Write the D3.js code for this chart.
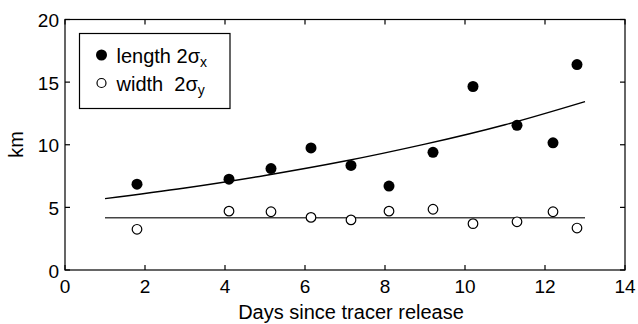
<!DOCTYPE html>
<html>
<head>
  <title>Tracer patch length and width</title>
  <script src="https://d3js.org/d3.v7.min.js"></script>
  <style>
    body { margin: 0; background: #fff; }
    text { font-family: "Liberation Sans", Arial, Helvetica, sans-serif; fill: #000; }
    .tick-label { font-size: 19px; }
    .axis-title { font-size: 20px; }
    .legend text { font-size: 20px; }
  </style>
</head>
<body>
  <div id="chart"></div>

  <script>
    // Values
    const days = [1.8, 4.1, 5.15, 6.15, 7.15, 8.1, 9.2, 10.2, 11.3, 12.2, 12.8];
    const lengthKm = [6.85, 7.25, 8.1, 9.75, 8.35, 6.7, 9.4, 14.65, 11.55, 10.15, 16.4];
    const widthKm = [3.25, 4.7, 4.65, 4.2, 4.0, 4.7, 4.85, 3.7, 3.85, 4.65, 3.35];

    // Fitted lines
    const lengthFitDays = [1, 3, 5, 7, 9, 11, 13];
    const lengthFitKm = [5.7, 6.55, 7.55, 8.7, 10.05, 11.6, 13.45];
    const widthFitDays = [1, 13];
    const widthFitKm = [4.17, 4.17];

    const xTicks = [0, 2, 4, 6, 8, 10, 12, 14];
    const yTicks = [0, 5, 10, 15, 20];

    const W = 638, H = 324;
    const plotL = 65, plotR = 625, plotT = 19.5, plotB = 270;
    const tickLen = 5;

    const svg = d3.select("#chart")
      .append("svg")
      .attr("width", W)
      .attr("height", H);

    const x = d3.scaleLinear().domain([0, 14]).range([plotL, plotR]);
    const y = d3.scaleLinear().domain([0, 20]).range([plotB, plotT]);

    // frame
    svg.append("rect")
      .attr("x", plotL).attr("y", plotT)
      .attr("width", plotR - plotL).attr("height", plotB - plotT)
      .attr("fill", "none").attr("stroke", "#000").attr("stroke-width", 1.2);

    // inward ticks on all four sides
    const ticks = svg.append("g").attr("stroke", "#000").attr("stroke-width", 1.2);
    xTicks.forEach(t => {
      ticks.append("line").attr("x1", x(t)).attr("x2", x(t)).attr("y1", plotB).attr("y2", plotB - tickLen);
      ticks.append("line").attr("x1", x(t)).attr("x2", x(t)).attr("y1", plotT).attr("y2", plotT + tickLen);
    });
    yTicks.forEach(t => {
      ticks.append("line").attr("x1", plotL).attr("x2", plotL + tickLen).attr("y1", y(t)).attr("y2", y(t));
      ticks.append("line").attr("x1", plotR).attr("x2", plotR - tickLen).attr("y1", y(t)).attr("y2", y(t));
    });

    // tick labels
    svg.append("g").selectAll("text")
      .data(xTicks).enter().append("text")
      .attr("class", "tick-label")
      .attr("x", d => x(d))
      .attr("y", plotB + 22.5)
      .attr("text-anchor", "middle")
      .text(d => d);

    svg.append("g").selectAll("text")
      .data(yTicks).enter().append("text")
      .attr("class", "tick-label")
      .attr("x", plotL - 6)
      .attr("y", d => y(d) + 7.5)
      .attr("text-anchor", "end")
      .text(d => d);

    // axis titles
    svg.append("text")
      .attr("class", "axis-title")
      .attr("x", 351)
      .attr("y", 318.5)
      .attr("text-anchor", "middle")
      .text("Days since tracer release");

    svg.append("text")
      .attr("class", "axis-title")
      .attr("transform", "translate(23,144.5) rotate(-90)")
      .attr("text-anchor", "middle")
      .text("km");

    // fitted lines
    const line = d3.line()
      .x(d => x(d[0]))
      .y(d => y(d[1]))
      .curve(d3.curveNatural);

    svg.append("path")
      .datum(d3.zip(widthFitDays, widthFitKm))
      .attr("d", line)
      .attr("fill", "none")
      .attr("stroke", "#444")
      .attr("stroke-width", 1.6);

    svg.append("path")
      .datum(d3.zip(lengthFitDays, lengthFitKm))
      .attr("d", line)
      .attr("fill", "none")
      .attr("stroke", "#000")
      .attr("stroke-width", 1.4);

    // points
    svg.append("g").selectAll("circle")
      .data(d3.zip(days, lengthKm)).enter().append("circle")
      .attr("cx", d => x(d[0]))
      .attr("cy", d => y(d[1]))
      .attr("r", 5.5)
      .attr("fill", "#000");

    svg.append("g").selectAll("circle")
      .data(d3.zip(days, widthKm)).enter().append("circle")
      .attr("cx", d => x(d[0]))
      .attr("cy", d => y(d[1]))
      .attr("r", 4.8)
      .attr("fill", "#fff")
      .attr("stroke", "#000")
      .attr("stroke-width", 1.2);

    // legend
    const legend = svg.append("g").attr("class", "legend");
    legend.append("rect")
      .attr("x", 79.5).attr("y", 33.5)
      .attr("width", 150.5).attr("height", 75)
      .attr("fill", "#fff").attr("stroke", "#000").attr("stroke-width", 1.2);

    legend.append("circle")
      .attr("cx", 101.5).attr("cy", 55).attr("r", 5.5).attr("fill", "#000");
    legend.append("circle")
      .attr("cx", 101.5).attr("cy", 83).attr("r", 4.5)
      .attr("fill", "#fff").attr("stroke", "#000").attr("stroke-width", 1.2);

    const t1 = legend.append("text").attr("x", 116.5).attr("y", 63);
    t1.append("tspan").text("length 2\u03c3");
    t1.append("tspan").attr("dy", 4).attr("font-size", 14).text("x");

    const t2 = legend.append("text").attr("x", 116.5).attr("y", 91);
    t2.append("tspan").text("width\u00a0\u00a02\u03c3");
    t2.append("tspan").attr("dy", 4).attr("font-size", 14).text("y");
  </script>
</body>
</html>
